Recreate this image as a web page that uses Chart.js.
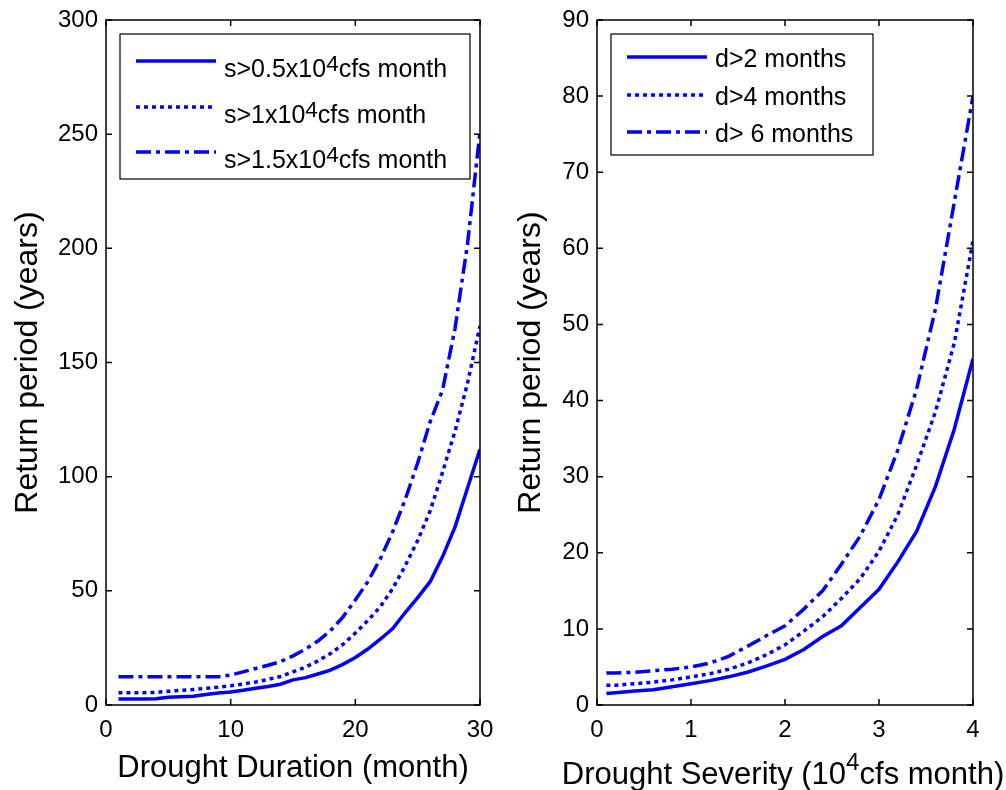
<!DOCTYPE html>
<html>
<head>
<meta charset="utf-8">
<title>Drought return periods</title>
<script src="https://cdn.jsdelivr.net/npm/chart.js@4.4.1/dist/chart.umd.min.js"></script>
<style>
  body { margin: 0; background: #fff; }
  #figure { position: relative; width: 1006px; height: 790px; }
  #figure canvas { position: absolute; top: 0; }
</style>
</head>
<body>
<div id="figure">
  <canvas id="durationChart" width="503" height="790" style="left:0"></canvas>
  <canvas id="severityChart" width="503" height="790" style="left:503px"></canvas>
</div>
<script>
// drought duration (months) -> return period (years), one curve per severity threshold
const durationMonths = [1, 2, 3, 4, 5, 6, 7, 8, 9, 10, 11, 12, 13, 14, 15,
                        16, 17, 18, 19, 20, 21, 22, 23, 24, 25, 26, 27, 28, 29, 30];
const rpSevere05 = [2.6, 2.6, 2.6, 2.7, 3.4, 3.6, 3.8, 4.6, 5.3, 5.7, 6.5, 7.3, 8.1, 9.1, 11.0,
                    12.0, 13.6, 15.3, 17.8, 20.8, 24.5, 28.8, 33.5, 40.5, 47, 54, 65, 78, 95, 112];
const rpSevere10 = [5.4, 5.4, 5.4, 5.5, 6.0, 6.4, 6.8, 7.3, 7.8, 8.4, 9.2, 10.1, 11.2, 12.5, 14.5,
                    16.6, 19.3, 22.5, 26.5, 31.5, 37, 43, 51, 61, 72, 85, 102, 120, 141, 166];
const rpSevere15 = [12.4, 12.4, 12.4, 12.4, 12.4, 12.4, 12.4, 12.4, 12.4, 13.1, 14.5, 16, 17.4, 19, 21.5,
                    24.5, 28, 32.5, 38.5, 46, 54, 64, 76, 90, 106, 124, 138, 165, 202, 251];
const severityNames = ['s>0.5x10^4cfs month', 's>1x10^4cfs month', 's>1.5x10^4cfs month'];

// drought severity (10^4 cfs month) -> return period (years), one curve per duration threshold
const severityValues = [0.1, 0.2, 0.4, 0.6, 0.8, 1.0, 1.2, 1.4, 1.6, 1.8, 2.0,
                        2.2, 2.4, 2.6, 2.8, 3.0, 3.2, 3.4, 3.6, 3.8, 4.0];
const rpDuration2 = [1.5, 1.6, 1.85, 2.0, 2.4, 2.8, 3.2, 3.7, 4.3, 5.1, 6.0,
                     7.3, 9.0, 10.4, 12.8, 15.2, 18.8, 22.8, 28.7, 36.2, 45.5];
const rpDuration4 = [2.6, 2.6, 2.8, 3.0, 3.3, 3.7, 4.1, 4.7, 5.5, 6.6, 7.9,
                     9.7, 11.6, 14.0, 16.6, 20.2, 25.0, 31.5, 38.5, 47.5, 61];
const rpDuration6 = [4.2, 4.2, 4.3, 4.5, 4.7, 5.0, 5.5, 6.4, 7.7, 9.1, 10.4,
                     12.6, 15.0, 18.5, 22.2, 27.0, 33.5, 41.5, 52, 66, 80];
const durationNames = ['d>2 months', 'd>4 months', 'd> 6 months'];

// tick labels
const durationTicks = [0, 10, 20, 30];
const severityTicks = [0, 1, 2, 3, 4];
const periodTicksLeft = [0, 50, 100, 150, 200, 250, 300];
const periodTicksRight = [0, 10, 20, 30, 40, 50, 60, 70, 80, 90];

const FONT = '"Liberation Sans", Arial, Helvetica, sans-serif';
const BLUE = '#0000ff';
const dashes = [[], [4, 4], [15, 5, 4, 5]];

// text with "^" marking a one-character superscript
function drawRich(ctx, text, x, y, size, opts) {
  const parts = [];
  for (let i = 0; i < text.length; i++) {
    if (text[i] === '^') { parts.push({ s: text[i + 1], sup: true }); i++; }
    else if (parts.length && !parts[parts.length - 1].sup) parts[parts.length - 1].s += text[i];
    else parts.push({ s: text[i], sup: false });
  }
  const supSize = size * opts.supScale;
  let total = 0;
  parts.forEach(p => {
    ctx.font = (p.sup ? supSize : size) + 'px ' + FONT;
    p.w = ctx.measureText(p.s).width;
    total += p.w;
  });
  let cx = opts.align === 'center' ? x - total / 2 : x;
  ctx.textAlign = 'left';
  ctx.textBaseline = 'alphabetic';
  ctx.fillStyle = '#000';
  parts.forEach(p => {
    ctx.font = (p.sup ? supSize : size) + 'px ' + FONT;
    ctx.fillText(p.s, cx, p.sup ? y - opts.raise : y);
    cx += p.w;
  });
}

// closed box with inward ticks on all four sides
const boxAxes = {
  id: 'boxAxes',
  afterDatasetsDraw(chart) {
    const { ctx, chartArea: a, scales: { x, y } } = chart;
    const len = 6;
    ctx.save();
    ctx.strokeStyle = '#000';
    ctx.lineWidth = 1.5;
    ctx.strokeRect(a.left, a.top, a.right - a.left, a.bottom - a.top);
    ctx.beginPath();
    x.ticks.forEach(t => {
      const px = x.getPixelForValue(t.value);
      ctx.moveTo(px, a.bottom); ctx.lineTo(px, a.bottom - len);
      ctx.moveTo(px, a.top); ctx.lineTo(px, a.top + len);
    });
    y.ticks.forEach(t => {
      const py = y.getPixelForValue(t.value);
      ctx.moveTo(a.left, py); ctx.lineTo(a.left + len, py);
      ctx.moveTo(a.right, py); ctx.lineTo(a.right - len, py);
    });
    ctx.stroke();
    ctx.restore();
  }
};

// legend box inside the plot, line samples use each dataset's own style
const boxLegend = {
  id: 'boxLegend',
  afterDraw(chart, args, o) {
    const { ctx, chartArea: a } = chart;
    const bx = a.left + o.x, by = a.top + o.y;
    ctx.save();
    ctx.fillStyle = '#fff';
    ctx.fillRect(bx, by, o.w, o.h);
    ctx.strokeStyle = '#000';
    ctx.lineWidth = 1.2;
    ctx.strokeRect(bx, by, o.w, o.h);
    chart.data.datasets.forEach((ds, i) => {
      const ly = by + o.rows[i];
      ctx.strokeStyle = ds.borderColor;
      ctx.lineWidth = ds.borderWidth;
      ctx.setLineDash(ds.borderDash);
      ctx.beginPath();
      ctx.moveTo(bx + o.sample[0], ly);
      ctx.lineTo(bx + o.sample[1], ly);
      ctx.stroke();
      ctx.setLineDash([]);
      drawRich(ctx, ds.label, bx + o.textX, ly + o.textDy, o.size, { supScale: o.supScale, raise: o.raise });
    });
    ctx.restore();
  }
};

// x-axis caption with a superscript
const richCaption = {
  id: 'richCaption',
  afterDraw(chart, args, o) {
    if (!o.text) return;
    const { ctx, chartArea: a } = chart;
    ctx.save();
    drawRich(ctx, o.text, (a.left + a.right) / 2 + o.dx, o.y, o.size, { supScale: o.supScale, raise: o.raise, align: 'center' });
    ctx.restore();
  }
};

function series(xs, ys, name, i) {
  return {
    label: name,
    data: xs.map((x, k) => ({ x: x, y: ys[k] })),
    borderColor: BLUE,
    borderWidth: 3.5,
    borderDash: dashes[i],
    borderCapStyle: 'butt',
    pointRadius: 0,
    tension: 0,
    fill: false
  };
}

function makeChart(id, cfg) {
  const xt = cfg.xTicks, yt = cfg.yTicks;
  return new Chart(document.getElementById(id), {
    type: 'line',
    data: { datasets: cfg.datasets },
    plugins: [boxAxes, boxLegend, richCaption],
    options: {
      responsive: false,
      animation: false,
      devicePixelRatio: 1,
      layout: { padding: { left: 0, top: 20, right: cfg.padRight, bottom: 0 } },
      scales: {
        x: {
          type: 'linear',
          min: xt[0], max: xt[xt.length - 1],
          grid: { display: false },
          border: { display: false },
          ticks: { stepSize: xt[1] - xt[0], color: '#000', padding: 3, font: { family: FONT, size: 24 } },
          title: {
            display: !!cfg.xTitle, text: cfg.xTitle || '', color: '#000',
            font: { family: FONT, size: 31, lineHeight: 1.2 }, padding: { top: 0, bottom: 3 }
          },
          afterFit: s => { s.height = 85; }
        },
        y: {
          type: 'linear',
          min: yt[0], max: yt[yt.length - 1],
          grid: { display: false },
          border: { display: false },
          ticks: { stepSize: yt[1] - yt[0], color: '#000', padding: 0, font: { family: FONT, size: 24 } },
          title: {
            display: true, text: 'Return period (years)', color: '#000',
            font: { family: FONT, size: 32, lineHeight: 1.2 }, padding: { top: 9, bottom: 0 }
          },
          afterFit: s => { s.width = cfg.yWidth; }
        }
      },
      plugins: {
        legend: { display: false },
        tooltip: { enabled: false },
        boxLegend: cfg.legend,
        richCaption: cfg.caption || {}
      }
    }
  });
}

makeChart('durationChart', {
  datasets: [
    series(durationMonths, rpSevere05, severityNames[0], 0),
    series(durationMonths, rpSevere10, severityNames[1], 1),
    series(durationMonths, rpSevere15, severityNames[2], 2)
  ],
  xTicks: durationTicks,
  yTicks: periodTicksLeft,
  xTitle: 'Drought Duration (month)',
  yWidth: 106,
  padRight: 23,
  legend: { x: 14, y: 14, w: 350, h: 145, rows: [27, 73, 118], sample: [16, 96], textX: 104,
            textDy: 16, size: 25, supScale: 0.9, raise: 6 }
});

makeChart('severityChart', {
  datasets: [
    series(severityValues, rpDuration2, durationNames[0], 0),
    series(severityValues, rpDuration4, durationNames[1], 1),
    series(severityValues, rpDuration6, durationNames[2], 2)
  ],
  xTicks: severityTicks,
  yTicks: periodTicksRight,
  yWidth: 94,
  padRight: 33,
  legend: { x: 14, y: 14, w: 262, h: 121, rows: [23, 61, 98], sample: [16, 96], textX: 104,
            textDy: 10, size: 25, supScale: 0.9, raise: 6 },
  caption: { text: 'Drought Severity (10^4cfs month)', y: 784, dx: -2, size: 31, supScale: 0.78, raise: 14 }
});
</script>
</body>
</html>
